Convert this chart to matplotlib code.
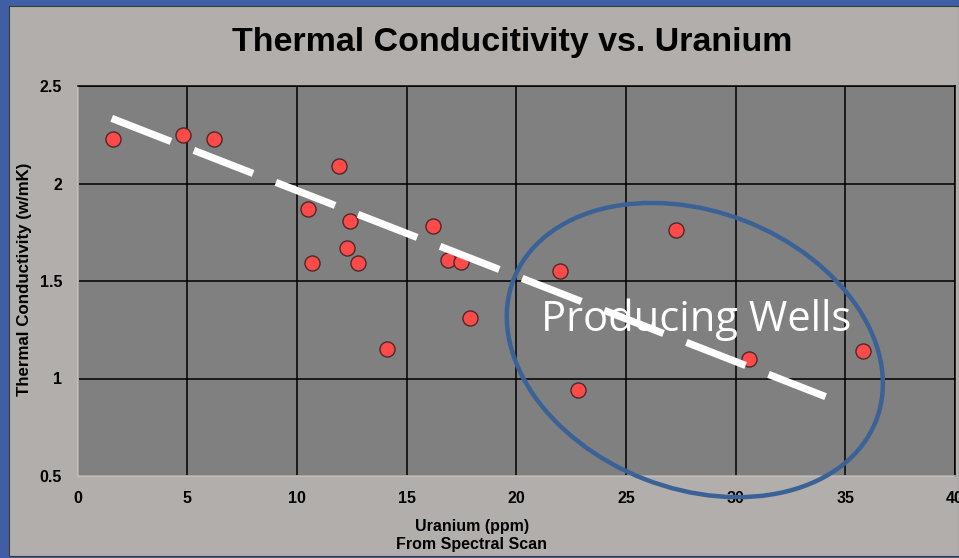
import matplotlib
matplotlib.use("Agg")
import matplotlib.pyplot as plt
from matplotlib.patches import Ellipse, Rectangle
from matplotlib.transforms import IdentityTransform

# Measurements: uranium content (ppm) vs thermal conductivity (W/mK)
uranium = [1.6, 4.8, 6.2, 11.9, 10.5, 12.4, 12.3, 10.7, 12.8, 16.2,
           16.9, 17.5, 17.9, 14.1, 22.0, 27.3, 22.8, 30.6, 35.8]
conductivity = [2.23, 2.25, 2.23, 2.09, 1.87, 1.81, 1.67, 1.59, 1.59, 1.78,
                1.61, 1.60, 1.31, 1.15, 1.55, 1.76, 0.94, 1.10, 1.14]

# Linear trend line end points
trend_x = [1.56, 34.1]
trend_y = [2.334, 0.907]

x_ticks = [0, 5, 10, 15, 20, 25, 30, 35, 40]
y_ticks = [0.5, 1.0, 1.5, 2.0, 2.5]
y_tick_labels = ["0.5", "1", "1.5", "2", "2.5"]

title = "Thermal Conducitivity vs. Uranium"
x_label = "Uranium (ppm)\nFrom Spectral Scan"
y_label = "Thermal Conductivity (w/mK)"
callout = "Producing Wells"

W, H, DPI = 959, 558, 100
fig = plt.figure(figsize=(W / DPI, H / DPI), dpi=DPI)
fig.patch.set_facecolor("#3f5ea6")

def fx(px):
    return px / W

def fy(py):
    return 1 - py / H

# chart panel
fig.add_artist(Rectangle((fx(9), fy(556)), fx(959 - 9), (556 - 6) / H,
                         transform=fig.transFigure, facecolor="#b1aeac",
                         edgecolor="#3a3a3a", linewidth=0.8, zorder=0))

ax = fig.add_axes([fx(77.5), fy(476), (955 - 77.5) / W, (476 - 86) / H])
ax.set_facecolor("#808080")
ax.set_xlim(0, 40)
ax.set_ylim(0.5, 2.5)
ax.set_xticks(x_ticks)
ax.set_yticks(y_ticks)
ax.set_yticklabels(y_tick_labels)
ax.grid(True, color="black", linewidth=1.1)
ax.set_axisbelow(True)
ax.tick_params(length=0, labelsize=11.5, pad=11)
for lab in ax.get_xticklabels() + ax.get_yticklabels():
    lab.set_fontweight("bold")
    lab.set_family("Liberation Sans")
for side in ("top", "right"):
    ax.spines[side].set_color("black")
    ax.spines[side].set_linewidth(1.1)
for side in ("left", "bottom"):
    ax.spines[side].set_color("#c4c2c0")
    ax.spines[side].set_linewidth(1.2)

ax.scatter(uranium, conductivity, s=118, color="#ff4a4a",
           edgecolors="#4a2a2a", linewidths=1.0, zorder=3)
ax.plot(trend_x, trend_y, color="white", linewidth=5.2,
        dashes=(8.8, 3.4), solid_capstyle="butt", dash_capstyle="butt",
        zorder=4)

# ellipse around the producing wells (drawn in pixel space)
fig.canvas.draw()
cx, cy = ax.transData.transform((28.14, 1.146))
ell = Ellipse((cx, cy), 389, 277, angle=-21.3, transform=IdentityTransform(),
              fill=False, edgecolor="#3b6296", linewidth=3.2, zorder=6)
fig.add_artist(ell)

ax.text(28.19, 1.30, callout, color="white", fontsize=30,
        family="Open Sans", ha="center", va="center", zorder=5)

fig.text(fx(512), fy(43), title, fontsize=24.5, fontweight="bold",
         family="Liberation Sans", ha="center", va="center")
fig.text(fx(25), fy(279), y_label, fontsize=12.2, fontweight="bold",
         family="Liberation Sans", ha="center", va="center", rotation=90)
fig.text(fx(472), fy(535), x_label, fontsize=11.5, fontweight="bold",
         family="Liberation Sans", ha="center", va="center",
         linespacing=1.25)

fig.savefig("out.png", dpi=DPI, facecolor=fig.get_facecolor())
